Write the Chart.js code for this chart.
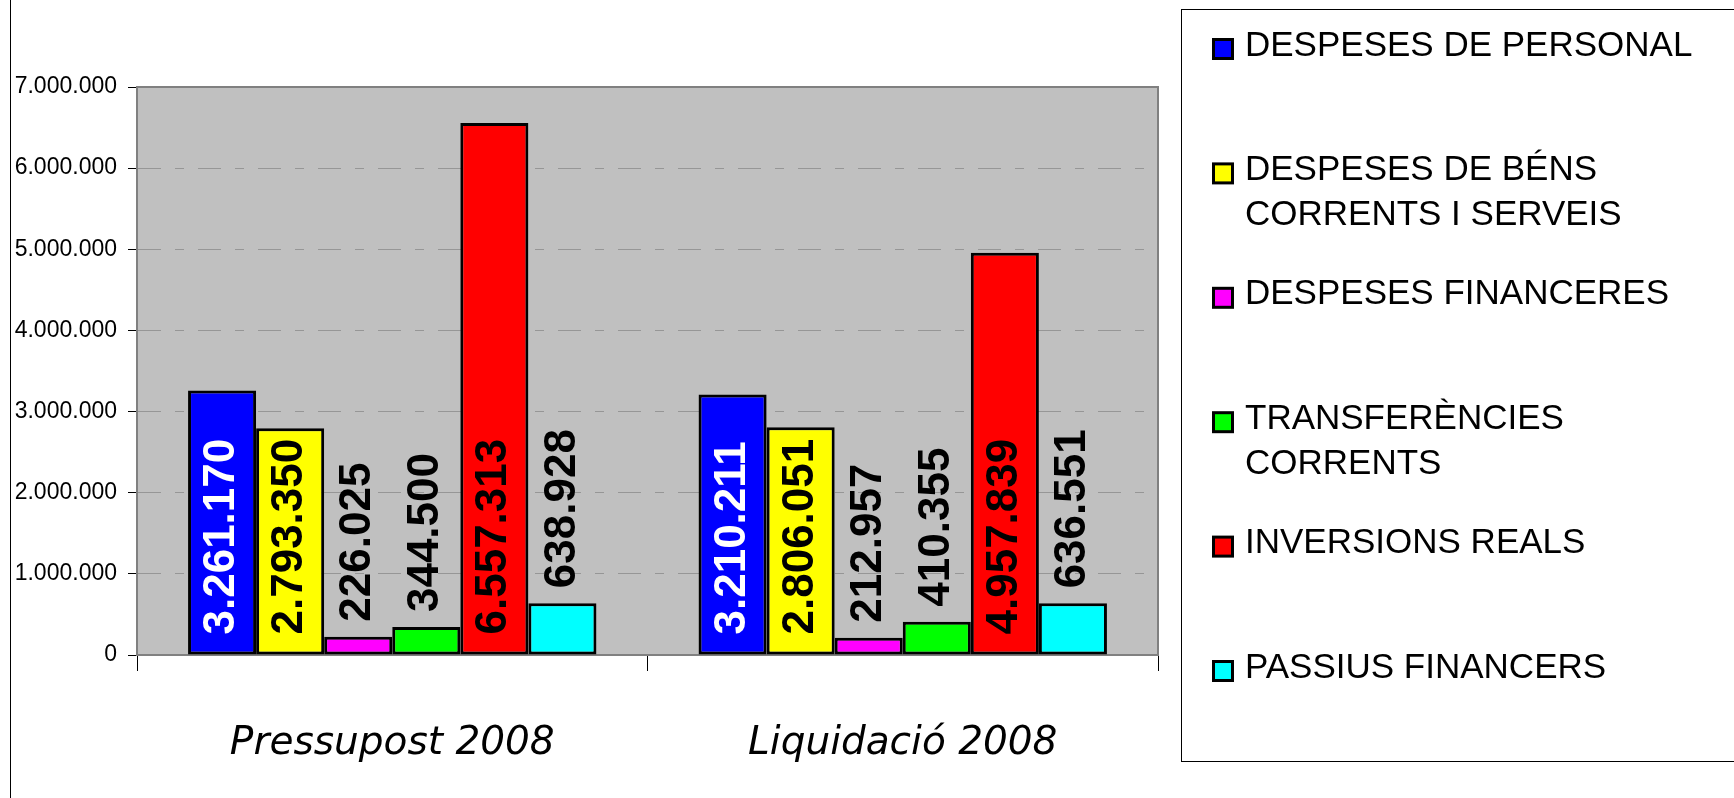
<!DOCTYPE html>
<html>
<head>
<meta charset="utf-8">
<script src="https://cdn.jsdelivr.net/npm/chart.js@4.4.1/dist/chart.umd.min.js"></script>
<style>
  html, body { margin: 0; padding: 0; background: #ffffff; }
  #wrap { position: relative; width: 1734px; height: 798px; }
</style>
</head>
<body>
<div id="wrap"><canvas id="c" width="1734" height="798"></canvas></div>
<script>
// ---- data ----
const categories = ['Pressupost 2008', 'Liquidació 2008'];
const seriesNames = [
  ['DESPESES DE PERSONAL'],
  ['DESPESES DE BÉNS', 'CORRENTS I SERVEIS'],
  ['DESPESES FINANCERES'],
  ['TRANSFERÈNCIES', 'CORRENTS'],
  ['INVERSIONS REALS'],
  ['PASSIUS FINANCERS']
];
const despesesPersonal    = [3261170, 3210211];
const despesesBens        = [2793350, 2806051];
const despesesFinanceres  = [226025, 212957];
const transferencies      = [344500, 410355];
const inversionsReals     = [6557313, 4957839];
const passiusFinancers    = [638928, 636551];
const seriesColors = ['#0000ff', '#ffff00', '#ff00ff', '#00ff00', '#ff0000', '#00ffff'];
const labelColors  = ['#ffffff', '#000000', '#000000', '#000000', '#000000', '#000000'];
const yMin = 0, yMax = 7000000, yStep = 1000000;

const seriesValues = [despesesPersonal, despesesBens, despesesFinanceres, transferencies, inversionsReals, passiusFinancers];

function fmt(v) {
  return String(Math.round(v)).replace(/\B(?=(\d{3})+(?!\d))/g, '.');
}

const datasets = seriesValues.map((vals, i) => ({
  label: seriesNames[i].join(' '),
  data: vals,
  backgroundColor: seriesColors[i],
  borderColor: '#000000',
  borderWidth: 3,
  borderSkipped: false,
  categoryPercentage: 0.8,
  barPercentage: 1.0
}));

// plot background + frame
const plotArea = {
  id: 'plotArea',
  beforeDraw(chart) {
    const { ctx, chartArea: a } = chart;
    ctx.save();
    ctx.fillStyle = '#c0c0c0';
    ctx.fillRect(a.left, a.top, a.right - a.left, a.bottom - a.top);
    ctx.restore();
    // left outer border line
    ctx.save();
    ctx.strokeStyle = '#000000';
    ctx.lineWidth = 1;
    ctx.beginPath();
    ctx.moveTo(10.5, 0);
    ctx.lineTo(10.5, 798);
    ctx.stroke();
    ctx.restore();
  },
  beforeDatasetsDraw(chart) {
    const { ctx, chartArea: a } = chart;
    ctx.save();
    ctx.strokeStyle = '#808080';
    ctx.lineWidth = 2;
    ctx.strokeRect(a.left, a.top, a.right - a.left, a.bottom - a.top);
    ctx.restore();
  }
};

// rotated value labels
const valueLabels = {
  id: 'valueLabels',
  afterDatasetsDraw(chart) {
    const { ctx } = chart;
    ctx.save();
    ctx.font = 'bold 44px "Liberation Sans", Arial, sans-serif';
    chart.data.datasets.forEach((ds, di) => {
      const meta = chart.getDatasetMeta(di);
      meta.data.forEach((bar, i) => {
        const text = fmt(ds.data[i]);
        const w = ctx.measureText(text).width;
        const h = bar.base - bar.y;
        let startY, color;
        if (w + 22 <= h) {
          startY = bar.base - 20;
          color = labelColors[di];
        } else {
          startY = bar.y - 15;
          color = '#000000';
        }
        ctx.save();
        ctx.translate(bar.x, startY);
        ctx.rotate(-Math.PI / 2);
        ctx.fillStyle = color;
        ctx.textAlign = 'left';
        ctx.textBaseline = 'middle';
        ctx.fillText(text, 0, 0);
        ctx.restore();
      });
    });
    ctx.restore();
  }
};

// legend box
const boxLegend = {
  id: 'boxLegend',
  afterDraw(chart) {
    const { ctx } = chart;
    ctx.save();
    ctx.strokeStyle = '#000000';
    ctx.lineWidth = 1;
    ctx.strokeRect(1181.5, 9.5, 600, 752);
    ctx.font = '35px "Liberation Sans", Arial, sans-serif';
    ctx.textAlign = 'left';
    ctx.textBaseline = 'middle';
    chart.data.datasets.forEach((ds, i) => {
      const y = 46 + i * 124.4;
      // swatch
      ctx.fillStyle = '#000000';
      ctx.fillRect(1212, y - 8, 22, 22);
      ctx.fillStyle = ds.backgroundColor;
      ctx.fillRect(1215, y - 5, 16, 16);
      ctx.fillStyle = '#000000';
      seriesNames[i].forEach((line, li) => {
        ctx.fillText(line, 1245, y + li * 45.4);
      });
    });
    ctx.restore();
  }
};

new Chart(document.getElementById('c'), {
  type: 'bar',
  data: { labels: categories, datasets },
  options: {
    responsive: false,
    animation: false,
    devicePixelRatio: 1,
    layout: { padding: { left: 0, top: 87, right: 576, bottom: 0 } },
    plugins: {
      legend: { display: false },
      tooltip: { enabled: false }
    },
    scales: {
      x: {
        grid: {
          offset: true,
          drawOnChartArea: false,
          drawTicks: true,
          tickLength: 16,
          tickColor: '#000000',
          tickWidth: 1
        },
        border: { display: true, color: '#808080', width: 2 },
        ticks: {
          color: '#000000',
          padding: 49,
          font: { family: '"DejaVu Sans", sans-serif', size: 39, style: 'italic' }
        },
        afterFit(scale) { scale.height = 143; }
      },
      y: {
        min: yMin,
        max: yMax,
        grid: {
          color: '#969696',
          lineWidth: 1,
          drawTicks: true,
          tickLength: 9,
          tickColor: '#000000',
          tickWidth: 1,
          tickBorderDash: []
        },
        border: { display: true, color: '#808080', width: 2, dash: [23, 14, 9, 14] },
        ticks: {
          stepSize: yStep,
          color: '#000000',
          padding: 11,
          font: { family: '"Liberation Sans", Arial, sans-serif', size: 23 },
          callback: (v) => fmt(v)
        },
        afterFit(scale) { scale.width = 137; }
      }
    }
  },
  plugins: [plotArea, valueLabels, boxLegend]
});
</script>
</body>
</html>
